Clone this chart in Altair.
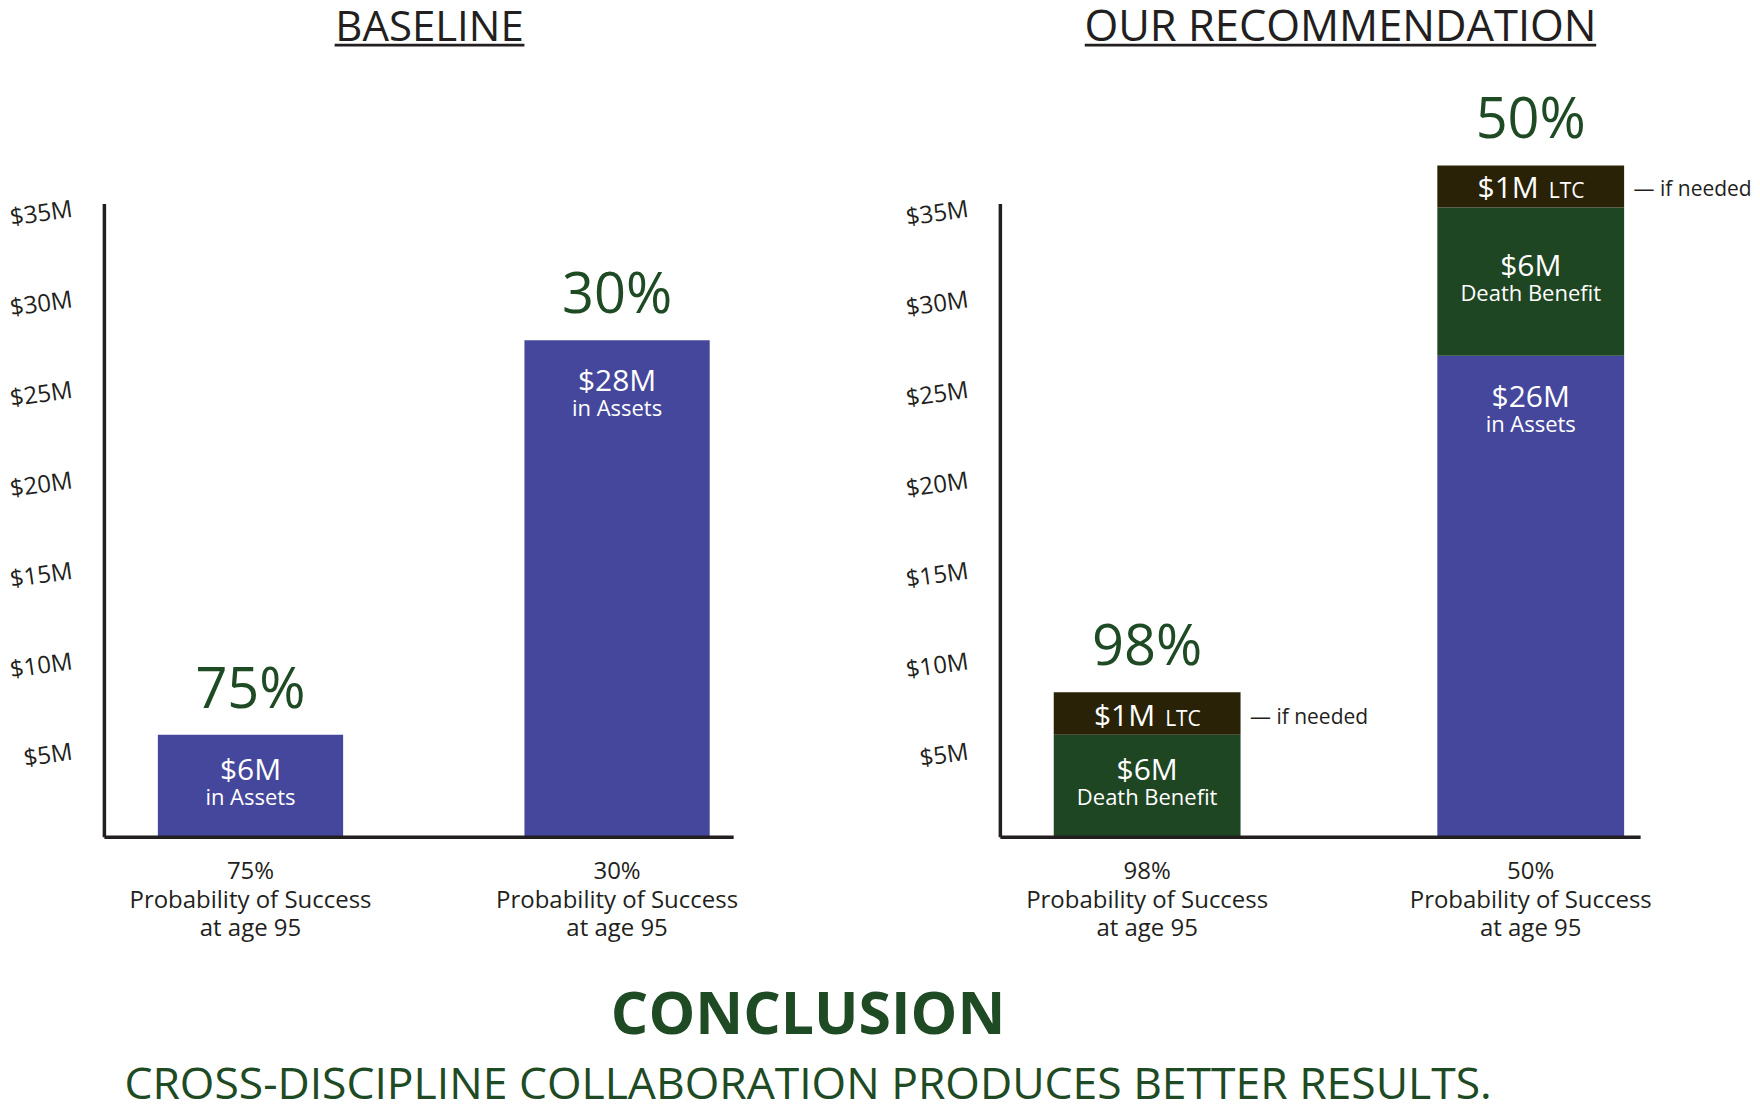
import altair as alt
import pandas as pd

# ---------------- data ----------------
bar_keys = ["b1", "b2", "b3", "b4"]
bar_panel = ["BASELINE", "BASELINE", "OUR RECOMMENDATION", "OUR RECOMMENDATION"]
bar_prob = ["75%", "30%", "98%", "50%"]
bar_axis_label = [p + "|Probability of Success|at age 95" for p in bar_prob]

seg_bar = ["b1", "b2", "b3", "b3", "b4", "b4", "b4"]
seg_kind = ["Assets", "Assets", "Death Benefit", "LTC", "Assets", "Death Benefit", "LTC"]
seg_order = [1, 1, 1, 2, 1, 2, 3]
# segment heights as drawn against the $M axis
seg_height = [5.63, 27.44, 5.63, 2.35, 26.58, 8.19, 2.33]
seg_amount = ["$6M", "$28M", "$6M", "$1M", "$26M", "$6M", "$1M"]
seg_note = ["in Assets", "in Assets", "Death Benefit", "LTC", "in Assets", "Death Benefit", "LTC"]

y_ticks = [5, 10, 15, 20, 25, 30, 35]

conclusion_title = "CONCLUSION"
conclusion_text = "CROSS-DISCIPLINE COLLABORATION PRODUCES BETTER RESULTS."
note_text = "\u2014 if needed"

# ---------------- styles ----------------
BLUE = "#45479C"
GREEN = "#1F4623"
LTC = "#2A2206"
TGREEN = "#1E4A24"
DARK = "#231F20"
FONT = "Open Sans"

idx = {k: i for i, k in enumerate(bar_keys)}
df = pd.DataFrame({
    "bar": seg_bar,
    "kind": seg_kind,
    "order": seg_order,
    "height": seg_height,
    "amount": seg_amount,
    "note": seg_note,
})
df["panel"] = [bar_panel[idx[b]] for b in df["bar"]]
df["cat"] = [bar_axis_label[idx[b]] for b in df["bar"]]
df["prob"] = [bar_prob[idx[b]] for b in df["bar"]]

yaxis = alt.Axis(values=y_ticks, labelExpr="'$' + datum.value + 'M'", labelAngle=352,
                 labelAlign="right", labelBaseline="middle", labelFontSize=24,
                 labelColor=DARK, labelFont=FONT, labelPadding=32, labelOffset=6,
                 ticks=False, grid=False, domainColor=DARK, domainWidth=3.5,
                 zindex=1, title=None, labelOverlap=False)
xaxis = alt.Axis(labelExpr="split(datum.label, '|')", labelFontSize=24, labelLineHeight=28.6,
                 labelPadding=23, ticks=False, domainColor=DARK, domainWidth=3.5,
                 labelAngle=0, labelColor=DARK, labelFont=FONT, zindex=1, labelLimit=500,
                 title=None, labelOverlap=False)


def txt(**kw):
    base = dict(font=FONT, baseline="alphabetic")
    base.update(kw)
    return base


def panel(pname, width, p_inner, p_outer, align, title_x, title_size, ul_x1, ul_x2, extra=None):
    d = df[df["panel"] == pname]
    cats = [bar_axis_label[i] for i in range(4) if bar_panel[i] == pname]
    X = alt.X("cat:N", sort=cats, title=None,
              scale=alt.Scale(paddingInner=p_inner, paddingOuter=p_outer, align=align),
              axis=xaxis)

    def Y(f):
        return alt.Y(f + ":Q", scale=alt.Scale(domain=[0, 35], nice=False, zero=True),
                     axis=yaxis, title=None)

    base = alt.Chart(d).transform_stack(
        stack="height", groupby=["cat"], sort=[alt.SortField("order", order="ascending")],
        as_=["y0", "y1"]
    ).transform_calculate(mid="(datum.y0 + datum.y1) / 2")

    bars = base.mark_bar().encode(
        x=X, y=Y("y1"), y2="y0",
        color=alt.Color("kind:N", scale=alt.Scale(domain=["Assets", "Death Benefit", "LTC"],
                                                  range=[BLUE, GREEN, LTC]), legend=None),
    )
    tall = base.transform_filter("datum.height >= 10")
    tall_amt = tall.mark_text(**txt(dy=51, fontSize=30, color="white")).encode(
        x=X, y=Y("y1"), text="amount:N")
    tall_note = tall.mark_text(**txt(dy=76, fontSize=22, color="white")).encode(
        x=X, y=Y("y1"), text="note:N")
    short = base.transform_filter("datum.height < 10 && datum.kind != 'LTC'")
    short_amt = short.mark_text(**txt(dy=-6, fontSize=30, color="white")).encode(
        x=X, y=Y("mid"), text="amount:N")
    short_note = short.mark_text(**txt(dy=19, fontSize=22, color="white")).encode(
        x=X, y=Y("mid"), text="note:N")
    ltc = base.transform_filter("datum.kind == 'LTC'")
    ltc_amt = ltc.mark_text(**txt(dy=12, dx=8, align="right", fontSize=30, color="white")).encode(
        x=X, y=Y("mid"), text="amount:N")
    ltc_note = ltc.mark_text(**txt(dy=12, dx=18, align="left", fontSize=21, color="white")).encode(
        x=X, y=Y("mid"), text="note:N")
    ltc_side = ltc.mark_text(**txt(dy=10, dx=103, align="left", fontSize=21, color=DARK)).encode(
        x=X, y=Y("mid"), text=alt.value(note_text))
    pct = base.transform_aggregate(top="max(y1)", groupby=["cat", "prob"]).mark_text(
        **txt(dy=-27, fontSize=56, color=TGREEN)).encode(x=X, y=Y("top"), text="prob:N")

    tdf = pd.DataFrame({"t": [pname]})
    title = alt.Chart(tdf).mark_text(**txt(fontSize=title_size, color=DARK, align="center")).encode(
        text="t:N", x=alt.value(title_x), y=alt.value(-163))
    underline = alt.Chart(tdf).mark_rule(color=DARK, strokeWidth=2.7).encode(
        x=alt.value(ul_x1), x2=alt.value(ul_x2), y=alt.value(-158.5))

    layers = [bars, tall_amt, tall_note, short_amt, short_note, ltc_amt, ltc_note,
              ltc_side, pct, title, underline]
    if extra:
        layers += extra
    return alt.layer(*layers).properties(width=width, height=634)


cdf = pd.DataFrame({"a": [conclusion_title], "b": [conclusion_text]})
concl1 = alt.Chart(cdf).mark_text(**txt(fontSize=59, fontWeight="bold", color=TGREEN,
                                        align="center")).encode(
    text="a:N", x=alt.value(705), y=alt.value(832))
concl2 = alt.Chart(cdf).mark_text(**txt(fontSize=44.5, color=TGREEN, align="center")).encode(
    text="b:N", x=alt.value(705), y=alt.value(897))

left = panel("BASELINE", 630, 0.4946, 0.1056, 0.697, 326, 42, 231, 421, extra=[concl1, concl2])
right = panel("OUR RECOMMENDATION", 641, 0.513, 0.0911, 0.771, 341, 43.5, 85, 597)

chart = alt.hconcat(left, right, spacing=267, bounds="flush").properties(
    padding={"left": 0, "top": -3, "right": 0, "bottom": -10}
).configure(background="white").configure_view(stroke=None, strokeWidth=0)

chart.save("out.html", embed_options={"renderer": "svg", "actions": False})
